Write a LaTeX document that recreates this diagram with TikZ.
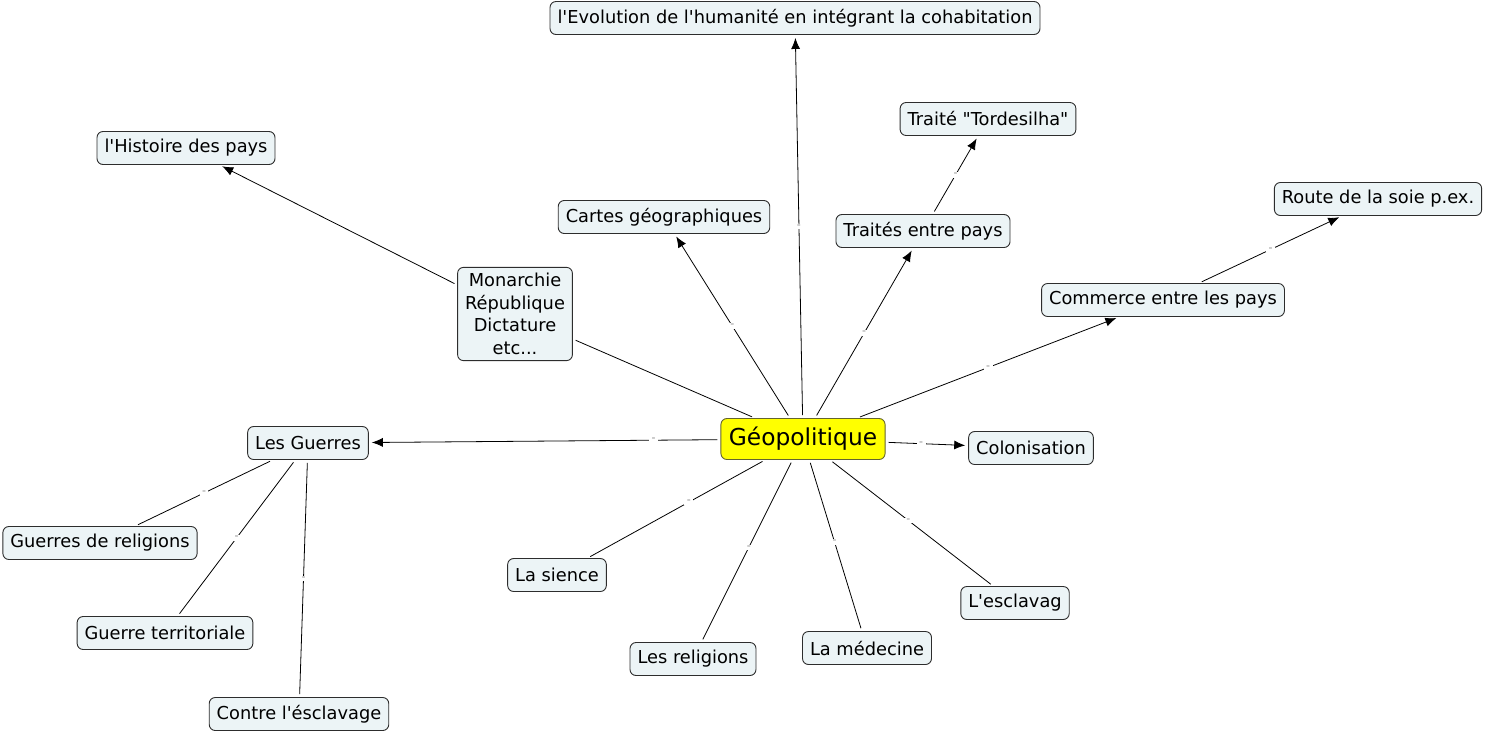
\documentclass[tikz,border=0pt]{standalone}
\usepackage{fontspec}
\setmainfont{DejaVu Sans}[Ligatures=TeXOff]
\usetikzlibrary{arrows.meta}

\definecolor{boxfill}{RGB}{236,244,246}
\definecolor{boxline}{RGB}{45,45,45}
\definecolor{geofill}{RGB}{255,255,0}
\definecolor{geoline}{RGB}{100,100,45}

\tikzset{
  concept/.style={draw=boxline, fill=boxfill, rounded corners=6pt, line width=0.9pt,
    inner xsep=7.5pt, inner ysep=2pt, minimum height=33pt, font=\fontsize{17.8}{22.5}\selectfont},
  centre/.style={concept, draw=geoline, fill=geofill, minimum height=41pt, inner xsep=8pt,
    font=\fontsize{23.3}{27}\selectfont},
  link/.style={line width=0.8pt, shorten <=3pt, shorten >=3pt},
  arr/.style={link, -{Latex[length=11pt,width=9pt]}},
  lbl/.style={fill=white, text=gray!90, inner xsep=2.5pt, inner ysep=1pt, font=\fontsize{11}{11}\selectfont}
}

\begin{document}
\begin{tikzpicture}[x=1pt,y=-1pt]
  \useasboundingbox (0,0) rectangle (1487,734);

  % the central concept
  \node[centre] (geo) at (803,439) {Géopolitique};

  % upper half
  \node[concept] (evol) at (795,18) {l'Evolution de l'humanité en intégrant la cohabitation};
  \node[concept] (hist) at (186,148) {l'Histoire des pays};
  \node[concept] (tord) at (988,119) {Traité "Tordesilha"};
  \node[concept] (route) at (1378,199) {Route de la soie p.ex.};
  \node[concept] (cartes) at (664,217) {Cartes géographiques};
  \node[concept] (traites) at (923,231) {Traités entre pays};
  \node[concept] (commerce) at (1163,300) {Commerce entre les pays};
  \node[concept, align=center, inner ysep=6pt] (regime) at (515,314)
    {Monarchie\\République\\Dictature\\etc...};

  % middle row
  \node[concept] (guerres) at (308,443) {Les Guerres};
  \node[concept] (colon) at (1031,448) {Colonisation};

  % lower half
  \node[concept] (grelig) at (100,543) {Guerres de religions};
  \node[concept] (sience) at (557,575) {La sience};
  \node[concept] (escl) at (1015,603) {L'esclavag};
  \node[concept] (terr) at (165,633) {Guerre territoriale};
  \node[concept] (relig) at (693,659) {Les religions};
  \node[concept] (medec) at (867,648) {La médecine};
  \node[concept] (contre) at (299,714) {Contre l'ésclavage};

  % connectors with arrow
  \draw[arr] (geo) -- node[lbl, pos=0.5] {-} (evol);
  \draw[arr] (geo) -- node[lbl, pos=0.5] {-} (cartes);
  \draw[arr] (geo) -- node[lbl, pos=0.5] {-} (traites);
  \draw[arr] (traites) -- node[lbl, pos=0.5] {-} (tord);
  \draw[arr] (geo) -- node[lbl, pos=0.5] {-} (commerce);
  \draw[arr] (commerce) -- node[lbl, pos=0.5] {-} (route);
  \draw[arr] (geo) -- node[lbl, pos=0.19] {-} (guerres);
  \draw[arr] (geo) -- node[lbl, pos=0.43] {-} (colon);
  \draw[link] (geo) -- (regime);
  \draw[arr] (regime) -- (hist);

  % connectors without arrow
  \draw[link] (guerres) -- node[lbl, pos=0.5] {-} (grelig);
  \draw[link] (guerres) -- node[lbl, pos=0.5] {-} (terr);
  \draw[link] (guerres) -- node[lbl, pos=0.5] {-} (contre);
  \draw[link] (geo) -- node[lbl, pos=0.43] {-} (sience);
  \draw[link] (geo) -- node[lbl, pos=0.48] {-} (relig);
  \draw[link] (geo) -- node[lbl, pos=0.48] {-} (medec);
  \draw[link] (geo) -- node[lbl, pos=0.48] {-} (escl);
\end{tikzpicture}
\end{document}
